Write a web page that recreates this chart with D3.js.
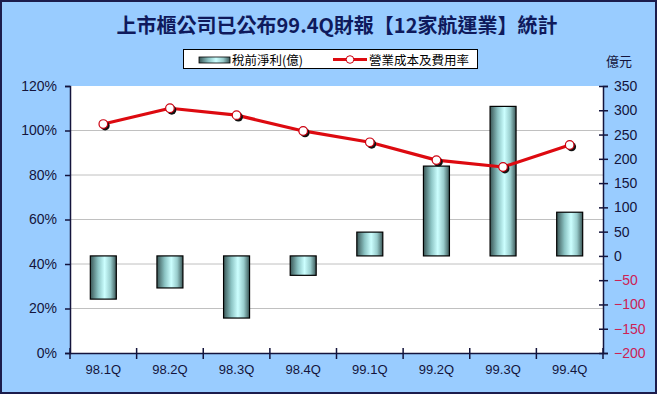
<!DOCTYPE html>
<html><head><meta charset="utf-8">
<script src="https://cdn.jsdelivr.net/npm/d3@7"></script>
<style>
html,body{margin:0;padding:0;background:#99ccff;}
svg{display:block;}
text{font-family:"Liberation Sans",Arial,sans-serif;}
</style></head>
<body>
<svg id="c" width="657" height="394"></svg>
<script>
const title = "上市櫃公司已公布99.4Q財報【12家航運業】統計";
const categories = ["98.1Q","98.2Q","98.3Q","98.4Q","99.1Q","99.2Q","99.3Q","99.4Q"];
const profit = [-89, -66, -128, -40, 49, 185, 308, 90];        // 稅前淨利(億)
const costRatio = [1.029, 1.100, 1.069, 0.998, 0.947, 0.867, 0.836, 0.935]; // 營業成本及費用率
const leftTicks = [0, 0.2, 0.4, 0.6, 0.8, 1.0, 1.2];
const rightTicks = [-200,-150,-100,-50,0,50,100,150,200,250,300,350];
const seriesNames = ["稅前淨利(億)", "營業成本及費用率"];
const rightUnit = "億元";

const W = 657, H = 394;
const M = {l:70, r:603, t:86, b:353};
const navy = "#14143c";
const svg = d3.select("#c");

const defs = svg.append("defs");
const g1 = defs.append("linearGradient").attr("id","barGrad").attr("x1","0").attr("x2","1").attr("y1","0").attr("y2","0");
[[0,"#3a5656"],[0.3,"#8cc4c4"],[0.55,"#ccffff"],[0.78,"#98cccc"],[1,"#3a5656"]].forEach(s=>g1.append("stop").attr("offset",s[0]).attr("stop-color",s[1]));

// background + border
svg.append("rect").attr("x",1).attr("y",1).attr("width",W-2).attr("height",H-2)
  .attr("fill","#99ccff").attr("stroke","#1c1c4c").attr("stroke-width",2);

// plot area
svg.append("rect").attr("x",M.l).attr("y",M.t).attr("width",M.r-M.l).attr("height",M.b-M.t).attr("fill","#ffffff");

const x = d3.scaleBand().domain(categories).range([M.l, M.r]);
const yL = d3.scaleLinear().domain([0,1.2]).range([M.b, M.t]);
const yR = d3.scaleLinear().domain([-200,350]).range([M.b, M.t]);

// grid
svg.append("g").selectAll("line").data(leftTicks.filter(d=>d>0 && d<1.2)).join("line")
  .attr("x1",M.l).attr("x2",M.r).attr("y1",d=>yL(d)).attr("y2",d=>yL(d))
  .attr("stroke","#c0c0c0").attr("stroke-width",1);

// bars
const bw = x.bandwidth()*0.39;
svg.append("g").selectAll("rect").data(profit).join("rect")
  .attr("x",(d,i)=>x(categories[i])+x.bandwidth()/2-bw/2)
  .attr("width",bw)
  .attr("y",d=>yR(Math.max(0,d)))
  .attr("height",d=>Math.abs(yR(d)-yR(0)))
  .attr("fill","url(#barGrad)").attr("stroke","#000").attr("stroke-width",1.2);

// line
const cx = (d,i)=>x(categories[i])+x.bandwidth()/2;
const line = d3.line().x(cx).y(d=>yL(d));
svg.append("path").datum(costRatio).attr("d",line).attr("fill","none")
  .attr("stroke","#dd0a10").attr("stroke-width",3.2).attr("stroke-linejoin","round");
svg.append("g").selectAll("circle").data(costRatio).join("circle")
  .attr("cx",(d,i)=>cx(d,i)+1.8).attr("cy",d=>yL(d)+1.8).attr("r",4.6).attr("fill","#111");
svg.append("g").selectAll("circle").data(costRatio).join("circle")
  .attr("cx",cx).attr("cy",d=>yL(d)).attr("r",4.3).attr("fill","#fff").attr("stroke","#cc0010").attr("stroke-width",1.2);

// left axis
const axL = svg.append("g").attr("transform",`translate(${M.l},0)`)
  .call(d3.axisLeft(yL).tickValues(leftTicks).tickFormat(d3.format(".0%")).tickSize(5).tickPadding(8));
axL.select(".domain").attr("stroke",navy).attr("stroke-width",1.5);
axL.selectAll(".tick line").attr("stroke",navy).attr("stroke-width",1.5);
axL.selectAll("text").attr("font-size",14).attr("fill",navy);

// right axis
const axR = svg.append("g").attr("transform",`translate(${M.r},0)`)
  .call(d3.axisRight(yR).tickValues(rightTicks).tickSize(5).tickPadding(6));
axR.select(".domain").attr("stroke",navy).attr("stroke-width",1.5);
axR.selectAll(".tick line").attr("x1",-4).attr("x2",5).attr("stroke",navy).attr("stroke-width",1.5);
axR.selectAll("text").attr("font-size",14).attr("fill",d=>d<0?"#cc2255":navy);

// bottom axis
const axB = svg.append("g").attr("transform",`translate(0,${M.b})`)
  .call(d3.axisBottom(x).tickSize(0).tickPadding(12));
axB.select(".domain").attr("stroke",navy).attr("stroke-width",1.5);
axB.selectAll("text").attr("font-size",13).attr("fill",navy);
axB.append("g").selectAll("line").data(d3.range(categories.length+1)).join("line")
  .attr("x1",i=>M.l+i*x.step()).attr("x2",i=>M.l+i*x.step()).attr("y1",-5).attr("y2",6)
  .attr("stroke",navy).attr("stroke-width",1.5);

// title
svg.append("text").attr("x",337).attr("y",33).attr("text-anchor","middle")
  .attr("font-family","'Noto Sans CJK TC','Noto Sans',sans-serif").attr("font-size",20).attr("font-weight","bold")
  .attr("fill","#0f1a5c").style("font-family","'Noto Sans CJK TC','Noto Sans',sans-serif").text(title);

// unit
svg.append("text").attr("x",619).attr("y",66).attr("text-anchor","middle")
  .style("font-family","'Noto Sans CJK TC',sans-serif").attr("font-size",13).attr("fill",navy).text(rightUnit);

// legend
const lg = svg.append("g");
lg.append("rect").attr("x",183.5).attr("y",49.5).attr("width",294).attr("height",19).attr("fill","#fff").attr("stroke","#000").attr("stroke-width",1);
lg.append("rect").attr("x",199).attr("y",57).attr("width",31).attr("height",6).attr("fill","url(#barGrad)").attr("stroke","#000").attr("stroke-width",0.8);
lg.append("text").attr("x",232).attr("y",64.5).style("font-family","'Noto Sans CJK TC',sans-serif").attr("font-size",12.5).attr("fill","#000").text(seriesNames[0]);
lg.append("line").attr("x1",333).attr("x2",367).attr("y1",59.5).attr("y2",59.5).attr("stroke","#dd0a10").attr("stroke-width",3);
lg.append("circle").attr("cx",350).attr("cy",59.5).attr("r",3.8).attr("fill","#fff").attr("stroke","#cc0010").attr("stroke-width",1);
lg.append("text").attr("x",369).attr("y",64.5).style("font-family","'Noto Sans CJK TC',sans-serif").attr("font-size",12.5).attr("fill","#000").text(seriesNames[1]);
</script>
</body></html>
